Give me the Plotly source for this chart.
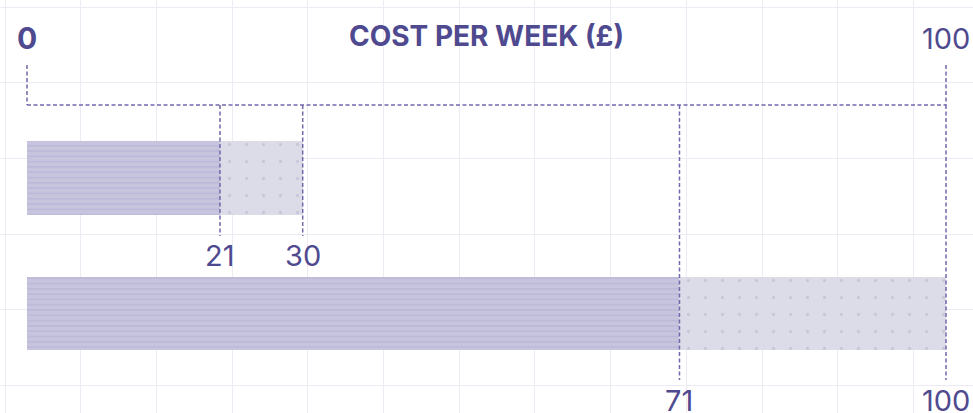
import plotly.graph_objects as go

# cost bands per row (£ per week)
rows = [0, 1]
lower = [21, 71]
upper = [30, 100]
scale_min, scale_max = 0, 100
title_text = "COST PER WEEK (£)"

W, H = 973, 413
TXT = "#4f4a8f"
LINE = "#7069ab"
FONT = "Inter, Roboto, sans-serif"

# pixel <-> data helpers (layout only)
X_PX0, X_PX100 = 27, 946
xs = (X_PX100 - X_PX0) / (scale_max - scale_min)
x_range = [scale_min - X_PX0 / xs, scale_max + (W - X_PX100) / xs]
ROW_PX = 135.5
Y_TOP = -178 / ROW_PX
y_range = [Y_TOP + H / ROW_PX, Y_TOP]


def ypx(p):
    return Y_TOP + p / ROW_PX


GRID = 75.7

fig = go.Figure()
fig.add_trace(go.Bar(
    y=rows, x=lower, orientation="h", width=0.546,
    marker=dict(color="#c7c5de", line=dict(width=0),
                pattern=dict(shape="-", size=5.3, solidity=0.2, fgcolor="#a7a3cb", fgopacity=0.55)),
    hoverinfo="skip", showlegend=False,
))
fig.add_trace(go.Bar(
    y=rows, x=[u - l for u, l in zip(upper, lower)], base=lower, orientation="h", width=0.546,
    marker=dict(color="#dcdbe8", line=dict(width=0),
                pattern=dict(shape=".", size=17, solidity=0.03, fgcolor="#aeabc9", fgopacity=0.4)),
    hoverinfo="skip", showlegend=False,
))

dash = dict(color=LINE, width=1.5, dash="4px,2.5px")
# bracket across the top of the scale
fig.add_shape(type="line", x0=scale_min, x1=scale_min, y0=ypx(65), y1=ypx(105), line=dash)
fig.add_shape(type="line", x0=scale_min, x1=scale_max, y0=ypx(105), y1=ypx(105), line=dash)
fig.add_shape(type="line", x0=scale_max, x1=scale_max, y0=ypx(65), y1=ypx(105), line=dash)

# drop lines and value labels per row
line_end = [0.428, 0.49]
label_pos = [0.57, 0.64]
for r, lo, up, le, lp in zip(rows, lower, upper, line_end, label_pos):
    for v in (lo, up):
        fig.add_shape(type="line", x0=v, x1=v, y0=ypx(105), y1=r + le, line=dash)
        fig.add_annotation(x=v, y=r + lp, text=str(v), showarrow=False,
                           font=dict(family=FONT, size=29, color=TXT), xanchor="center", yanchor="middle")

fig.add_annotation(x=scale_min, y=ypx(38), text="<b>%d</b>" % scale_min, showarrow=False,
                   font=dict(family=FONT, size=30, color=TXT), xanchor="center", yanchor="middle")
fig.add_annotation(x=scale_max, y=ypx(38), text=str(scale_max), showarrow=False,
                   font=dict(family=FONT, size=29, color=TXT), xanchor="center", yanchor="middle")
fig.add_annotation(x=(scale_min + scale_max) / 2, y=ypx(36), text="<b>%s</b>" % title_text, showarrow=False,
                   font=dict(family=FONT, size=28, color=TXT), xanchor="center", yanchor="middle")

fig.update_layout(
    width=W, height=H, margin=dict(l=0, r=0, t=0, b=0),
    paper_bgcolor="white", plot_bgcolor="white",
    barmode="overlay", bargap=0,
    xaxis=dict(range=x_range, showticklabels=False, zeroline=False, showline=False,
               showgrid=True, gridcolor="#ecebf3", gridwidth=1.2,
               tick0=(5 - X_PX0) / xs + scale_min, dtick=GRID / xs),
    yaxis=dict(range=y_range, showticklabels=False, zeroline=False, showline=False,
               showgrid=True, gridcolor="#ecebf3", gridwidth=1.2,
               tick0=ypx(7), dtick=GRID / ROW_PX),
)

fig.write_html("out.html", config={"displayModeBar": False},
               post_script="document.body.style.margin='0';")
